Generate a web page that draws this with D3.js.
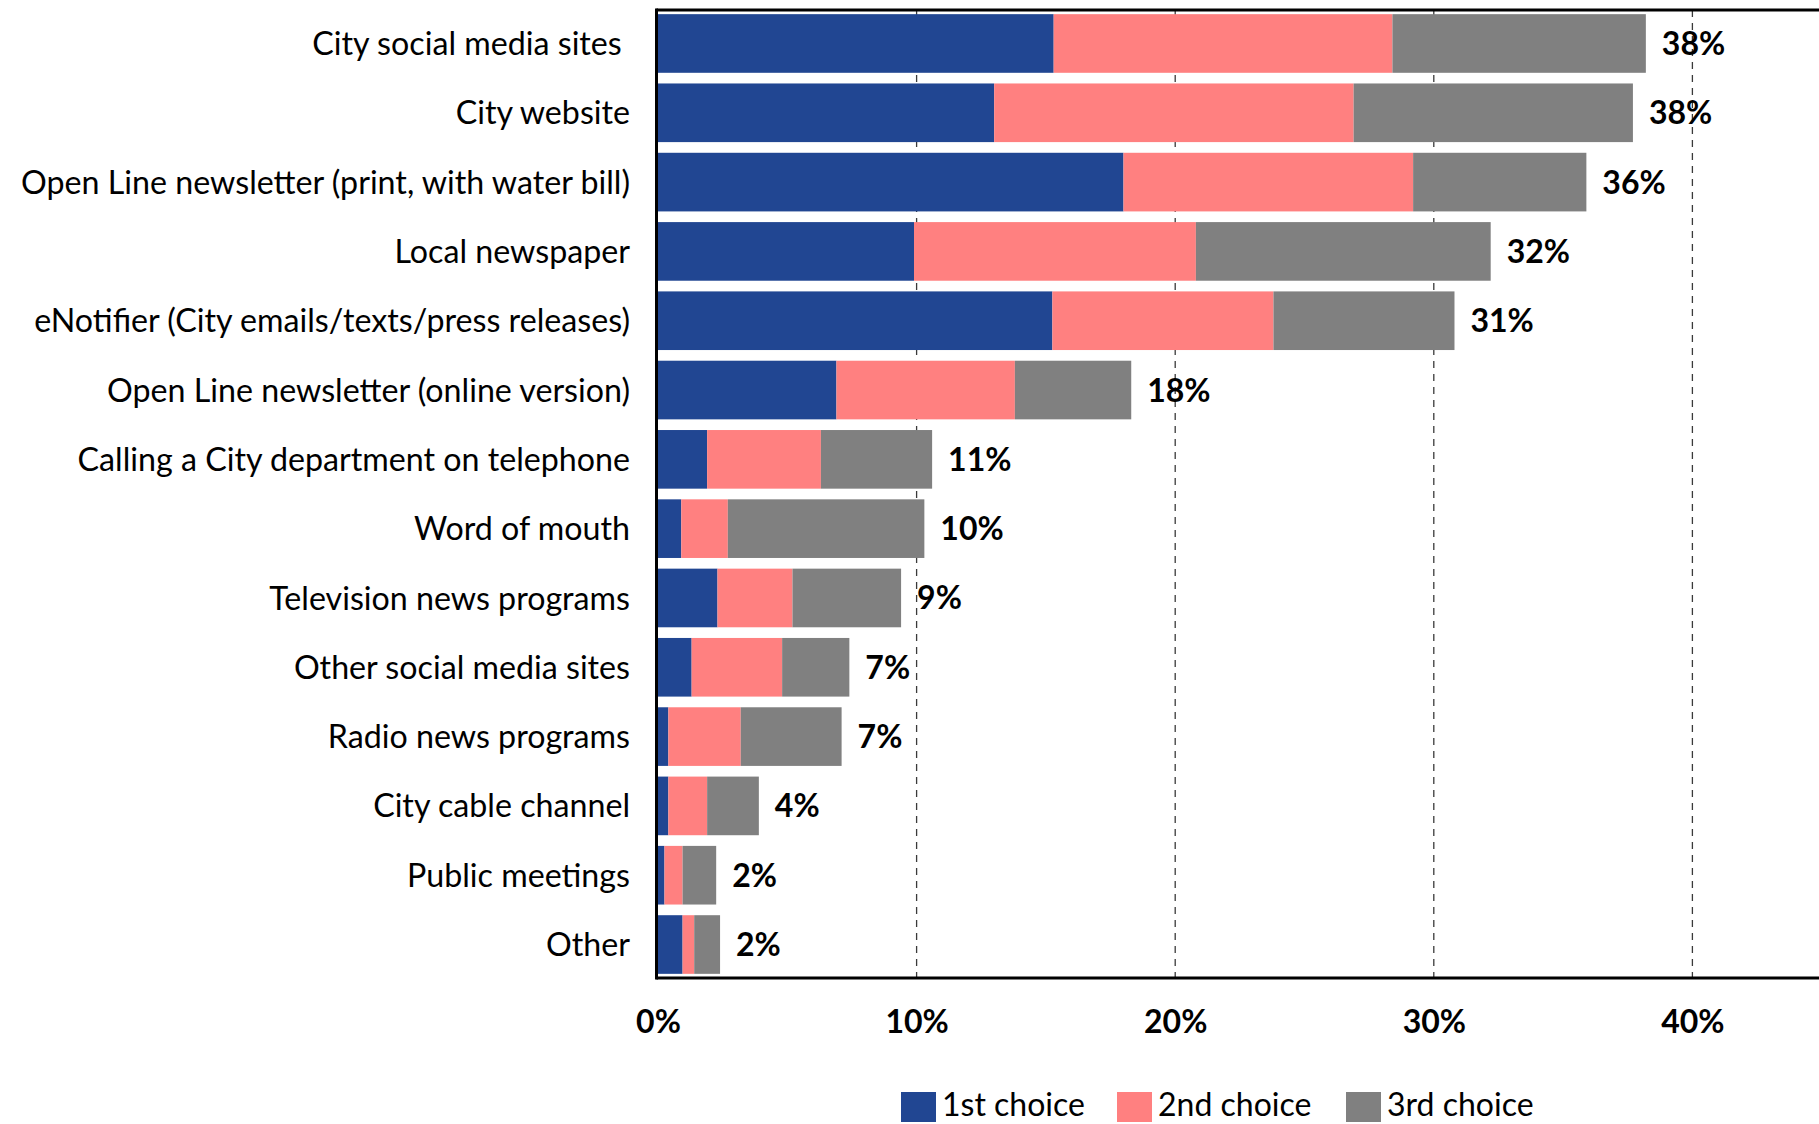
<!DOCTYPE html>
<html>
<head>
<meta charset="utf-8">
<script src="https://cdn.jsdelivr.net/npm/d3@7"></script>
<style>
  html, body { margin: 0; padding: 0; background: #fff; }
  svg { display: block; font-family: Lato, "Open Sans", sans-serif; }
</style>
</head>
<body>
<svg id="chart" width="1819" height="1124"></svg>
<script>
// Sources of City information, ranked by combined share of first three choices
const categories = [
  "City social media sites ",
  "City website",
  "Open Line newsletter (print, with water bill)",
  "Local newspaper",
  "eNotifier (City emails/texts/press releases)",
  "Open Line newsletter (online version)",
  "Calling a City department on telephone",
  "Word of mouth",
  "Television news programs",
  "Other social media sites",
  "Radio news programs",
  "City cable channel",
  "Public meetings",
  "Other"
];
const firstChoice  = [15.3, 13.0, 18.0,  9.9, 15.25, 6.9, 1.9, 0.9, 2.3, 1.3, 0.4, 0.4, 0.25, 0.95];
const secondChoice = [13.1, 13.9, 11.2, 10.9,  8.55, 6.9, 4.4, 1.8, 2.9, 3.5, 2.8, 1.5, 0.7,  0.45];
const thirdChoice  = [ 9.8, 10.8,  6.7, 11.4,  7.0,  4.5, 4.3, 7.6, 4.2, 2.6, 3.9, 2.0, 1.3,  1.0];
const seriesNames  = ["1st choice", "2nd choice", "3rd choice"];
const seriesColors = ["#214692", "#FF8080", "#808080"];
const xTicks = [0, 10, 20, 30, 40];

const svg = d3.select("#chart");

const rows = categories.map((c, i) => ({
  category: c,
  "1st choice": firstChoice[i],
  "2nd choice": secondChoice[i],
  "3rd choice": thirdChoice[i]
}));
const totals = rows.map(r => r["1st choice"] + r["2nd choice"] + r["3rd choice"]);

const plot = { left: 658, top: 10, bottom: 978 };

const x = d3.scaleLinear().domain([0, 45]).range([plot.left, plot.left + 45 * 25.86]);
const y = d3.scaleBand()
  .domain(categories)
  .range([plot.top, plot.bottom])
  .paddingInner(0.154)
  .paddingOuter(0.06);

// Dashed vertical gridlines (behind the bars)
svg.append("g")
  .selectAll("line")
  .data(xTicks.filter(t => t > 0))
  .join("line")
  .attr("x1", d => x(d)).attr("x2", d => x(d))
  .attr("y1", plot.top).attr("y2", plot.bottom)
  .attr("stroke", "#3a3a3a")
  .attr("stroke-width", 1.3)
  .attr("stroke-dasharray", "7,6");

// Stacked bars
const stack = d3.stack().keys(seriesNames);
const layers = stack(rows);

svg.append("g")
  .selectAll("g")
  .data(layers)
  .join("g")
  .attr("fill", (d, i) => seriesColors[i])
  .selectAll("rect")
  .data(d => d)
  .join("rect")
  .attr("x", d => x(d[0]))
  .attr("width", d => x(d[1]) - x(d[0]))
  .attr("y", d => y(d.data.category))
  .attr("height", y.bandwidth());

// Frame: top, left and bottom rules
const frame = svg.append("g").attr("stroke", "#000").attr("stroke-width", 3);
frame.append("line").attr("x1", plot.left - 1.5).attr("x2", 1819).attr("y1", plot.top).attr("y2", plot.top);
frame.append("line").attr("x1", plot.left - 1.5).attr("x2", 1819).attr("y1", plot.bottom).attr("y2", plot.bottom);
frame.append("line").attr("x1", plot.left - 1.5).attr("x2", plot.left - 1.5).attr("y1", plot.top - 1.5).attr("y2", plot.bottom + 1.5);

// Total labels at bar ends
const pct = d3.format(".0f");
svg.append("g")
  .selectAll("text")
  .data(rows)
  .join("text")
  .attr("x", (d, i) => x(totals[i]) + 16)
  .attr("y", d => y(d.category) + y.bandwidth() / 2)
  .attr("dy", "0.36em")
  .attr("font-size", 32)
  .attr("font-weight", 700)
  .attr("fill", "#000")
  .text((d, i) => pct(totals[i]) + "%");

// Category axis
const yAxis = d3.axisLeft(y).tickSize(0).tickPadding(28);
const yg = svg.append("g")
  .attr("transform", `translate(${plot.left},0)`)
  .call(yAxis);
yg.select(".domain").remove();
yg.selectAll("text")
  .attr("font-size", 32.2)
  .attr("font-family", "Lato, 'Open Sans', sans-serif")
  .attr("fill", "#000")
  .attr("dy", "0.36em")
  .style("white-space", "pre");

// Percentage axis
const xAxis = d3.axisBottom(x).tickValues(xTicks).tickSize(0).tickPadding(0).tickFormat(d => d + "%");
const xg = svg.append("g")
  .attr("transform", `translate(0,1021)`)
  .call(xAxis);
xg.select(".domain").remove();
xg.selectAll("text")
  .attr("font-size", 32)
  .attr("font-weight", 700)
  .attr("font-family", "Lato, 'Open Sans', sans-serif")
  .attr("fill", "#000")
  .attr("dy", "0.36em")
  .attr("y", 0);

// Legend
const legendX = [901, 1117, 1346];
const legend = svg.append("g");
const item = legend.selectAll("g")
  .data(seriesNames)
  .join("g")
  .attr("transform", (d, i) => `translate(${legendX[i]},1092)`);
item.append("rect")
  .attr("width", 35).attr("height", 30)
  .attr("fill", (d, i) => seriesColors[i]);
item.append("text")
  .attr("x", 41)
  .attr("y", 12)
  .attr("dy", "0.36em")
  .attr("font-size", 32)
  .attr("fill", "#000")
  .text(d => d);
</script>
</body>
</html>
